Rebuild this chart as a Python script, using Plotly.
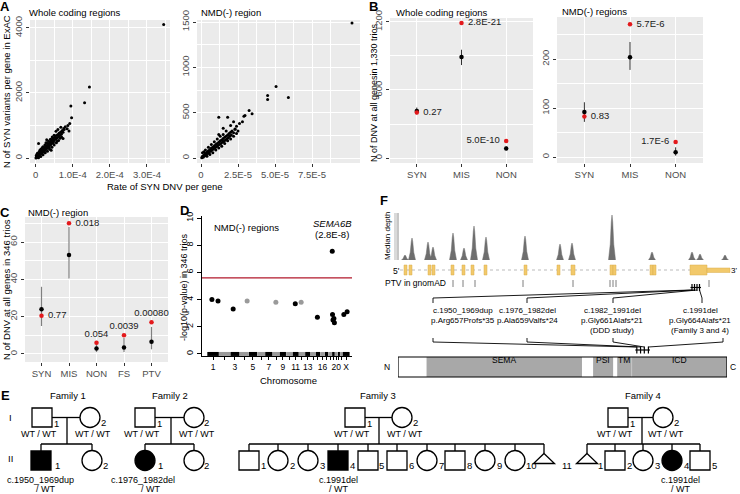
import plotly.graph_objects as go

W, H = 740, 494
def px(x): return x / W
def py(y): return 1 - y / H

FONT = "Liberation Sans, Arial, sans-serif"
BG = "#EBEBEB"
TCOL = "#4D4D4D"
RED = "#E3191C"

# ---------------- DATA ----------------
# Panel A (rate in units of 1e-4 / 1e-5, count of SYN variants)
a1_rate_1e4 = [0.01,0.02,0.03,0.04,0.05,0.06,0.07,0.08,0.09,0.10,0.11,0.12,0.13,0.14,0.15,0.16,0.17,0.18,0.19,0.20,
               0.21,0.22,0.23,0.24,0.25,0.26,0.27,0.28,0.29,0.30,0.31,0.32,0.33,0.34,0.35,0.36,0.37,0.38,0.39,0.40,
               0.41,0.42,0.43,0.44,0.45,0.46,0.47,0.48,0.50,0.52,0.54,0.56,0.58,0.60,0.62,0.64,0.66,0.68,0.70,0.72,
               0.74,0.77,
               0.05,0.10,0.15,0.20,0.25,0.30,0.35,0.40,0.45,0.50,0.08,0.14,0.20,0.26,0.32,0.38,0.44,0.50,0.56,0.62,
               0.02,0.04,0.12,0.18,0.28,0.36,0.48,0.58,0.66,0.70,
               0.08,0.42,0.74,0.76,0.87,0.92,0.95,0.97,0.85,0.80,0.68,0.60,1.32,1.45,3.45,0.90,0.55,0.30]
a1_count = [5,30,15,60,40,80,55,110,70,130,95,150,120,180,140,200,160,230,175,250,
            200,270,220,300,240,330,260,340,290,370,300,390,330,420,350,440,380,470,400,500,
            420,520,450,560,470,580,500,610,540,640,580,690,620,720,660,770,700,800,740,850,
            790,880,
            150,200,280,350,400,460,520,580,650,700,10,50,100,160,210,270,330,400,470,540,
            80,120,250,320,470,330,470,520,610,650,
            450,240,600,910,1000,1060,1600,1240,900,960,950,880,1700,2180,4100,830,820,560]
a2_rate_1e5 = [0.05,0.1,0.15,0.2,0.25,0.3,0.35,0.4,0.45,0.5,0.55,0.6,0.65,0.7,0.75,0.8,0.85,0.9,0.95,1.0,
               1.05,1.1,1.15,1.2,1.25,1.3,1.35,1.4,1.45,1.5,1.55,1.6,1.65,1.7,1.75,1.8,1.85,1.9,1.95,2.0,
               2.05,2.1,2.2,2.3,
               0.1,0.3,0.5,0.7,0.9,1.1,1.3,1.5,0.4,0.6,0.8,1.0,1.2,1.4,1.6,1.8,2.0,2.2,2.4,2.5,0.2,1.2,1.7,2.4,
               1.2,1.8,2.0,2.3,2.6,2.9,2.97,3.25,3.45,4.5,4.5,5.07,5.9,10.2,1.5,2.8,2.2]
a2_count = [5,20,10,35,25,50,35,65,50,80,60,95,75,110,90,120,100,135,115,150,
            125,160,140,175,150,190,160,200,175,215,185,230,200,240,210,255,225,270,240,285,
            255,300,280,320,
            60,90,120,150,180,210,240,260,20,40,60,90,110,130,160,190,210,240,270,300,70,260,300,350,
            450,450,360,318,380,460,470,525,490,690,645,788,667,1490,330,400,400]
a1_ticks = ["0", "1.0E-4", "2.0E-4", "3.0E-4"]
a2_ticks = ["0", "2.5E-5", "5.0E-5", "7.5E-5"]

# Panel B
b_cats = ["SYN", "MIS", "NON"]
b1_obs = [402, 1191, 150]
b1_exp = [415, 891, 85]
b1_lo = [385, 820, 68]
b1_hi = [445, 955, 103]
b1_p = ["0.27", "2.8E-21", "5.0E-10"]
b2_obs = [83, 271, 31]
b2_exp = [92, 204, 10]
b2_lo = [72, 178, 3]
b2_hi = [112, 235, 20]
b2_p = ["0.83", "5.7E-6", "1.7E-6"]

# Panel C
c_cats = ["SYN", "MIS", "NON", "FS", "PTV"]
c_obs = [20.5, 70, 6, 10, 17]
c_exp = [24, 53, 3, 3.5, 6.5]
c_lo = [15, 40.5, 1, 1, 2.5]
c_hi = [36, 68, 7, 8.5, 14.5]
c_p = ["0.77", "0.018", "0.054", "0.0039", "0.00080"]

# Panel D (Manhattan)
chrom_names = ["1","2","3","4","5","6","7","8","9","10","11","12","13","14","15","16","17","18","19","20","21","22","X"]
chrom_len_mb = [249,243,198,191,181,171,159,146,141,136,135,134,115,107,103,90,81,78,59,63,48,51,155]
chrom_tick_text = ["1","","3","","5","","7","","9","","11","","13","","","16","","","","20","","","X"]
d_chrom = ["1","1","3","4","8","11","12","15","19","19","19","19","19","X","X"]
d_pos_mb = [100,230,61,160,70,60,50,40,4.5,10,20,40,50,30,100]
d_mlogp = [4.0,3.9,3.3,3.9,3.8,3.7,3.8,2.7,7.55,2.9,2.5,2.6,2.3,2.9,3.1]
d_threshold = 5.6

# Panel F (schematic gene coordinates, a.u.)
exon_start = [4, 9, 28, 32, 51, 62, 71, 84, 124, 157, 171, 210, 213, 250, 253, 290]
exon_end = [7, 12, 31, 35, 54, 65, 74, 87, 127, 160, 175, 213, 216, 253, 256, 307]
utr3_end = 330
depth_pos = [5, 12, 28, 33, 53, 64, 74, 86, 125, 160, 172, 212, 252, 292, 300, 325]
depth_val = [5, 22, 18, 13, 27, 12, 34, 23, 24, 16, 17, 45, 8, 8, 6, 5]
ptv_pos = [53, 63, 75, 123, 173, 210, 213, 216, 309]
dnv_gene_pos = [292, 294.5, 297, 299.5]
dnv_aa = [657, 659, 661, 664]
dnv_cdna = ["c.1950_1969dup", "c.1976_1982del", "c.1982_1991del", "c.1991del"]
dnv_prot = ["p.Arg657Profs*35", "p.Ala659Valfs*24", "p.Gly661Alafs*21", "p.Gly664Alafs*21"]
dnv_note = ["", "", "(DDD study)", "(Family 3 and 4)"]
protein_len = 888
domain_names = ["SEMA", "PSI", "TM", "ICD"]
domain_start = [78, 527, 592, 632]
domain_end = [497, 581, 631, 888]

# ---------------- FIGURE ----------------
fig = go.Figure()
shapes, ann = [], []

def text(x, y, s, size=9.5, color="black", xanchor="center", angle=0):
    ann.append(dict(x=px(x), y=py(y), xref="paper", yref="paper", text=s, showarrow=False,
                    font=dict(family=FONT, size=size, color=color), xanchor=xanchor,
                    yanchor="middle", textangle=angle, borderpad=0))

def pline(x0, y0, x1, y1, width=1.3, color="black"):
    shapes.append(dict(type="line", xref="paper", yref="paper", x0=px(x0), y0=py(y0),
                       x1=px(x1), y1=py(y1), line=dict(color=color, width=width)))

def gg_axis(domain, rng, tickvals, ticktext, minor=None, angle=0, grid=True):
    d = dict(domain=domain, range=rng, tickvals=tickvals, ticktext=ticktext,
             showgrid=grid, gridcolor="white", gridwidth=1, zeroline=False, showline=False,
             ticks="outside", ticklen=3, tickcolor="#333333", tickwidth=1,
             tickfont=dict(family=FONT, size=9.5, color=TCOL), tickangle=angle)
    if minor is not None:
        d["minor"] = dict(tickvals=minor, showgrid=True, gridcolor="white", gridwidth=0.5, ticks="")
    return d

def gray_bg(xa, ya):
    shapes.append(dict(type="rect", xref=xa + " domain", yref=ya + " domain", x0=0, x1=1, y0=0, y1=1,
                       fillcolor=BG, line=dict(width=0), layer="below"))

# ---- Panel A ----
fig.add_trace(go.Scatter(x=a1_rate_1e4, y=a1_count, mode="markers", marker=dict(color="black", size=3),
                         xaxis="x", yaxis="y", hoverinfo="skip"))
fig.add_trace(go.Scatter(x=a2_rate_1e5, y=a2_count, mode="markers", marker=dict(color="black", size=3),
                         xaxis="x2", yaxis="y2", hoverinfo="skip"))
lay = {}
lay["xaxis"] = gg_axis([px(30), px(170)], [-0.15, 3.62], [0, 1, 2, 3], a1_ticks, minor=[0.5, 1.5, 2.5, 3.5])
lay["yaxis"] = gg_axis([py(163), py(20)], [-152, 4242], [0, 2000, 4000], ["0", "2000", "4000"],
                       minor=[1000, 3000], angle=-90)
lay["xaxis2"] = gg_axis([px(197), px(360)], [-0.27, 10.74], [0, 2.5, 5, 7.5], a2_ticks,
                        minor=[1.25, 3.75, 6.25, 8.75])
lay["yaxis2"] = gg_axis([py(163), py(20)], [-54, 1522], [0, 500, 1000, 1500], ["0", "500", "1000", "1500"],
                        minor=[250, 750, 1250], angle=-90)
lay["xaxis"]["anchor"] = "y"; lay["yaxis"]["anchor"] = "x"
lay["xaxis2"]["anchor"] = "y2"; lay["yaxis2"]["anchor"] = "x2"
gray_bg("x", "y"); gray_bg("x2", "y2")

# ---- Panel B ----
def obs_exp(xa, ya, cats, obs, exp, lo, hi, plabels, pos, ecol, ethick):
    xs = list(range(1, len(cats) + 1))
    fig.add_trace(go.Scatter(x=xs, y=exp, mode="markers", marker=dict(color="black", size=4.5),
                             error_y=dict(type="data", symmetric=False,
                                          array=[h - e for h, e in zip(hi, exp)],
                                          arrayminus=[e - l for e, l in zip(exp, lo)],
                                          color=ecol, thickness=ethick, width=0),
                             xaxis=xa, yaxis=ya, hoverinfo="skip"))
    fig.add_trace(go.Scatter(x=xs, y=obs, mode="markers+text", marker=dict(color=RED, size=4.5),
                             text=[" " + p + " " for p in plabels], textposition=pos,
                             textfont=dict(family=FONT, size=9.5, color="#1A1A1A"),
                             xaxis=xa, yaxis=ya, hoverinfo="skip", cliponaxis=False))

obs_exp("x3", "y3", b_cats, b1_obs, b1_exp, b1_lo, b1_hi, b1_p,
        ["middle right", "middle right", "middle left"], "#333333", 1)
obs_exp("x4", "y4", b_cats, b2_obs, b2_exp, b2_lo, b2_hi, b2_p,
        ["middle right", "middle right", "middle left"], "#333333", 1)
lay["xaxis3"] = gg_axis([px(390), px(533)], [0.4, 3.6], [1, 2, 3], b_cats)
lay["yaxis3"] = gg_axis([py(163), py(18)], [-44, 1235], [0, 600, 1200], ["0", "600", "1200"],
                        minor=[300, 900], angle=-90)
lay["xaxis4"] = gg_axis([px(557), px(703)], [0.4, 3.6], [1, 2, 3], b_cats)
lay["yaxis4"] = gg_axis([py(163), py(17)], [-12, 286], [0, 100, 200], ["0", "100", "200"],
                        minor=[50, 150, 250], angle=-90)
for i in (3, 4):
    lay[f"xaxis{i}"]["anchor"] = f"y{i}"; lay[f"yaxis{i}"]["anchor"] = f"x{i}"
gray_bg("x3", "y3"); gray_bg("x4", "y4")

# ---- Panel C ----
obs_exp("x5", "y5", c_cats, c_obs, c_exp, c_lo, c_hi, c_p,
        ["middle right", "middle right", "top center", "top center", "top center"], "#808080", 1.2)
lay["xaxis5"] = gg_axis([px(25), px(168)], [0.4, 5.6], [1, 2, 3, 4, 5], c_cats)
lay["yaxis5"] = gg_axis([py(362), py(217)], [-4.3, 73.4], [0, 20, 40, 60], ["0", "20", "40", "60"],
                        minor=[10, 30, 50, 70], angle=-90)
lay["xaxis5"]["anchor"] = "y5"; lay["yaxis5"]["anchor"] = "x5"
gray_bg("x5", "y5")

# ---- Panel D ----
chrom_start = []
acc = 0
for L in chrom_len_mb:
    chrom_start.append(acc)
    acc += L
chrom_mid = [s + L / 2 for s, L in zip(chrom_start, chrom_len_mb)]
for parity, col in ((0, "black"), (1, "#9A9A9A")):
    bx, by = [], []
    for i, (s, L) in enumerate(zip(chrom_start, chrom_len_mb)):
        if i % 2 == parity:
            bx += [s + 2, s + L - 2, None]
            by += [0, 0, None]
    fig.add_trace(go.Scatter(x=bx, y=by, mode="lines", line=dict(color=col, width=4),
                             xaxis="x6", yaxis="y6", hoverinfo="skip", cliponaxis=False))
d_x = [chrom_start[chrom_names.index(c)] + p for c, p in zip(d_chrom, d_pos_mb)]
d_col = ["black" if chrom_names.index(c) % 2 == 0 else "#9A9A9A" for c in d_chrom]
fig.add_trace(go.Scatter(x=d_x, y=d_mlogp, mode="markers", marker=dict(color=d_col, size=5),
                         xaxis="x6", yaxis="y6", hoverinfo="skip"))
lay["xaxis6"] = dict(domain=[px(202), px(352)], range=[-111, 3083], anchor="y6",
                     tickvals=chrom_mid, ticktext=chrom_tick_text, showgrid=False, zeroline=False,
                     showline=True, linecolor="black", linewidth=1, ticks="outside", ticklen=3,
                     tickcolor="black", tickangle=0, tickfont=dict(family=FONT, size=8.5, color="black"))
lay["yaxis6"] = dict(domain=[py(356), py(216)], range=[-0.15, 10.15], anchor="x6",
                     tickvals=[0, 2, 4, 6, 8, 10], ticktext=["0", "2", "4", "6", "8", "10"],
                     showgrid=False, zeroline=False, showline=True, linecolor="black", linewidth=1,
                     ticks="outside", ticklen=4, tickcolor="black", tickangle=-90,
                     tickfont=dict(family=FONT, size=9, color="black"))
shapes.append(dict(type="line", xref="x6 domain", yref="y6", x0=0, x1=1, y0=d_threshold, y1=d_threshold,
                   line=dict(color="#B2182B", width=1.2)))
sema_x = d_x[d_mlogp.index(max(d_mlogp))]
ann.append(dict(x=sema_x, y=9.6, xref="x6", yref="y6", text="<i>SEMA6B</i>", showarrow=False,
                font=dict(family=FONT, size=9.5, color="black")))
ann.append(dict(x=sema_x, y=8.8, xref="x6", yref="y6", text="(2.8E-8)", showarrow=False,
                font=dict(family=FONT, size=9.5, color="black")))

# ---- Panel F: depth + gene ----
dx, dy = [], []
for c, h in zip(depth_pos, depth_val):
    w = 3.5
    dx += [c - w, c - 0.5 * w, c - 0.2 * w, c, c + 0.2 * w, c + 0.5 * w, c + w, None]
    dy += [0, 0.35 * h, 0.85 * h, h, 0.85 * h, 0.35 * h, 0, None]
fig.add_trace(go.Scatter(x=dx, y=dy, mode="lines", fill="toself", fillcolor="#6E6E6E",
                         line=dict(color="#6E6E6E", width=0.5), xaxis="x7", yaxis="y7", hoverinfo="skip"))
lay["xaxis7"] = dict(domain=[px(400), px(740)], range=[0, 340], anchor="y7", visible=False)
lay["yaxis7"] = dict(domain=[py(260), py(210)], range=[0, 50], anchor="x7", visible=False)
shapes.append(dict(type="rect", xref="paper", yref="paper", x0=px(394), x1=px(399), y0=py(260), y1=py(213),
                   fillcolor="#DADADA", line=dict(width=0)))
pline(398, 213, 398, 260, width=0.8, color="#AAAAAA")
text(387, 236, "Median depth", size=8, angle=-90)

# gene model
shapes.append(dict(type="line", xref="x7", yref="paper", x0=0, x1=exon_start[-1], y0=py(270), y1=py(270),
                   line=dict(color="#BBBBBB", width=1, dash="dot")))
for s, e in zip(exon_start, exon_end):
    shapes.append(dict(type="rect", xref="x7", yref="paper", x0=s, x1=e, y0=py(275), y1=py(265),
                       fillcolor="#F2C96B", line=dict(color="#D9AE4F", width=0.5)))
shapes.append(dict(type="rect", xref="x7", yref="paper", x0=exon_end[-1], x1=utr3_end, y0=py(272.5), y1=py(268),
                   fillcolor="#F2C96B", line=dict(color="#D9AE4F", width=0.5)))
text(396, 271, "5'", size=8.5)
text(734, 270, "3'", size=8)
for p in ptv_pos:
    shapes.append(dict(type="line", xref="x7", yref="paper", x0=p, x1=p, y0=py(287), y1=py(280),
                       line=dict(color="#7F7F7F", width=1)))
text(447, 283, "PTV in gnomAD", size=8.5, xanchor="right")
# DNV markers on gene
shapes.append(dict(type="line", xref="x7", yref="paper", x0=dnv_gene_pos[0] - 1.5, x1=dnv_gene_pos[-1] + 1.5,
                   y0=py(287.5), y1=py(287.5), line=dict(color="black", width=1.2)))
for p in dnv_gene_pos:
    shapes.append(dict(type="line", xref="x7", yref="paper", x0=p, x1=p, y0=py(291), y1=py(284),
                       line=dict(color="black", width=1.2)))

# protein
fig.add_trace(go.Bar(y=[0] * len(domain_names), x=[e - s for s, e in zip(domain_start, domain_end)],
                     base=domain_start, orientation="h", width=1, marker=dict(color="#A8A8A8", line=dict(width=0)),
                     xaxis="x8", yaxis="y8", hoverinfo="skip"))
lay["xaxis8"] = dict(domain=[px(398), px(727)], range=[1, protein_len], anchor="y8", visible=False)
lay["yaxis8"] = dict(domain=[py(377), py(357)], range=[-0.5, 0.5], anchor="x8", visible=False)
shapes.append(dict(type="rect", xref="x8", yref="paper", x0=1, x1=protein_len, y0=py(377), y1=py(357),
                   line=dict(color="black", width=1.2), fillcolor="rgba(0,0,0,0)"))
for nm, s, e in zip(domain_names, domain_start, domain_end):
    ann.append(dict(x=(s + e) / 2, y=py(367), xref="x8", yref="paper", text=nm, showarrow=False,
                    font=dict(family=FONT, size=8.5, color="black")))
text(387, 367, "N", size=8.5)
text(733, 367, "C", size=8.5)
aa_px = [398 + (a - 1) * (727 - 398) / (protein_len - 1) for a in dnv_aa]
tick_offsets = [-4.5, -1.5, 1.5, 4.5]
pline(aa_px[0] + tick_offsets[0] - 1.5, 350, aa_px[-1] + tick_offsets[-1] + 1.5, 350, width=1.2)
for i, a in enumerate(dnv_aa):
    shapes.append(dict(type="line", xref="paper", yref="paper", x0=px(aa_px[i] + tick_offsets[i]),
                       x1=px(aa_px[i] + tick_offsets[i]), y0=py(353.5), y1=py(346.5),
                       line=dict(color="black", width=1.2)))

# variant labels and connectors
label_cx = [463, 527, 612, 700]
top_bx = [433, 527, 613, 702]
bot_bx = [433, 527, 613, 723]
gene_px = [400 + g for g in dnv_gene_pos]
for i in range(4):
    text(label_cx[i], 310, dnv_cdna[i], size=8)
    text(label_cx[i], 320, dnv_prot[i], size=8)
    if dnv_note[i]:
        text(label_cx[i], 330, dnv_note[i], size=8)
    pline(top_bx[i], 303, top_bx[i], 298, width=0.9)
    pline(top_bx[i], 298, gene_px[i], 290, width=0.9)
    pline(bot_bx[i], 338, bot_bx[i], 342, width=0.9)
    pline(bot_bx[i], 342, aa_px[i] + tick_offsets[i], 347, width=0.9)

# ---- Panel E: pedigrees ----
LW = 1.3
def symbol(kind, cx, cy, filled):
    fill = "black" if filled else "white"
    if kind == "sq":
        shapes.append(dict(type="rect", xref="paper", yref="paper", x0=px(cx - 10), x1=px(cx + 10),
                           y0=py(cy + 9.5), y1=py(cy - 9.5), fillcolor=fill, line=dict(color="black", width=LW)))
    elif kind == "ci":
        shapes.append(dict(type="circle", xref="paper", yref="paper", x0=px(cx - 10), x1=px(cx + 10),
                           y0=py(cy + 10), y1=py(cy - 10), fillcolor=fill, line=dict(color="black", width=LW)))
    else:
        path = (f"M {px(cx)},{py(cy - 7)} L {px(cx + 10.5)},{py(cy + 3)} L {px(cx - 10.5)},{py(cy + 3)} Z")
        shapes.append(dict(type="path", xref="paper", yref="paper", path=path, fillcolor=fill,
                           line=dict(color="black", width=LW)))

families = [
    dict(name="Family 1", lx=68, fx=42, mx=90, dxl=67,
         kids=[("sq", 41, True, "1", 57), ("ci", 92, False, "2", 105)],
         aff=(0, 40, 45, "c.1950_1969dup")),
    dict(name="Family 2", lx=170, fx=145, mx=194, dxl=171,
         kids=[("ci", 145, True, "1", 160), ("ci", 194, False, "2", 207)],
         aff=(0, 143, 150, "c.1976_1982del")),
    dict(name="Family 3", lx=378, fx=355, mx=402, dxl=379,
         kids=[("sq", 249, False, "1", 263), ("ci", 278, False, "2", 292), ("ci", 308, False, "3", 322),
               ("sq", 338, True, "4", 352), ("sq", 368, False, "5", 382), ("sq", 397, False, "6", 411),
               ("ci", 427, False, "7", 441), ("sq", 455, False, "8", 469), ("ci", 485, False, "9", 499),
               ("ci", 515, False, "10", 531), ("tr", 544, False, "11", 567)],
         aff=(3, 338, 338, "c.1991del")),
    dict(name="Family 4", lx=643, fx=618, mx=663, dxl=642,
         kids=[("tr", 587, False, "1", 600), ("sq", 615, False, "2", 629), ("ci", 643, False, "3", 657),
               ("ci", 672, True, "4", 686), ("sq", 700, False, "5", 714)],
         aff=(3, 680, 680, "c.1991del")),
]
G1, SIB, G2 = 417.5, 444, 460.5
for f in families:
    text(f["lx"], 395, f["name"], size=9.5)
    pline(f["fx"] + 10, G1, f["mx"] - 10, G1)
    pline(f["dxl"], G1, f["dxl"], SIB)
    xs = [k[1] for k in f["kids"]]
    pline(min(xs), SIB, max(xs), SIB)
    for kind, cx, filled, num, nx in f["kids"]:
        pline(cx, SIB, cx, G2 - 7 if kind == "tr" else G2 - 9.5)
    symbol("sq", f["fx"], G1, False)
    symbol("ci", f["mx"], G1, False)
    text(f["fx"] + 14, G1 + 6, "1", size=9.5)
    text(f["mx"] + 13, G1 + 5, "2", size=9.5)
    text(f["fx"] - 3, G1 + 16.5, "WT / WT", size=9)
    text(f["mx"] + 3, G1 + 16.5, "WT / WT", size=9)
    for kind, cx, filled, num, nx in f["kids"]:
        symbol(kind, cx, G2, filled)
        text(nx, G2 + 5, num, size=9.5)
    _, ax1, ax2, s = f["aff"]
    text(ax1, 479.5, s, size=9)
    text(ax2, 489, "/ WT", size=9)
text(10, G1, "I", size=9.5)
text(10, G2 - 2, "II", size=9.5)

# ---- Titles, axis titles, panel letters ----
for lbl, x, y in (("A", 5, 7), ("B", 374, 6), ("C", 5, 212), ("D", 184, 210), ("E", 5, 395), ("F", 384, 200)):
    text(x, y, f"<b>{lbl}</b>", size=13)
text(28, 12, "Whole coding regions", size=9.5, xanchor="left")
text(200, 12, "NMD(-) region", size=9.5, xanchor="left")
text(395, 12, "Whole coding regions", size=9.5, xanchor="left")
text(561, 11, "NMD(-) regions", size=9.5, xanchor="left")
text(27, 212, "NMD(-) region", size=9.5, xanchor="left")
text(213, 227, "NMD(-) regions", size=9.5, xanchor="left")
text(7, 92, "N of SYN variants per gene in ExAC", size=9.5, angle=-90)
text(165, 186, "Rate of SYN DNV per gene", size=9.5)
text(374, 92, "N of DNV at all genesin 1,330 trios", size=9, angle=-90)
text(6, 290, "N of DNV at all genes in 346 trios", size=9.5, angle=-90)
text(184, 287, "-log10(p-value) in 346 trios", size=9, angle=-90)
text(288, 380, "Chromosome", size=9.5)

fig.update_layout(
    width=W, height=H, margin=dict(l=0, r=0, t=0, b=0), template="none",
    paper_bgcolor="white", plot_bgcolor="white", showlegend=False,
    font=dict(family=FONT, size=9.5, color="black"),
    shapes=shapes, annotations=ann, barmode="overlay", **lay)
for k in lay:
    fig.layout[k].automargin = False
fig.write_html("out.html", config={"displayModeBar": False},
               post_script="document.body.style.margin='0px';document.body.style.overflow='hidden';")
